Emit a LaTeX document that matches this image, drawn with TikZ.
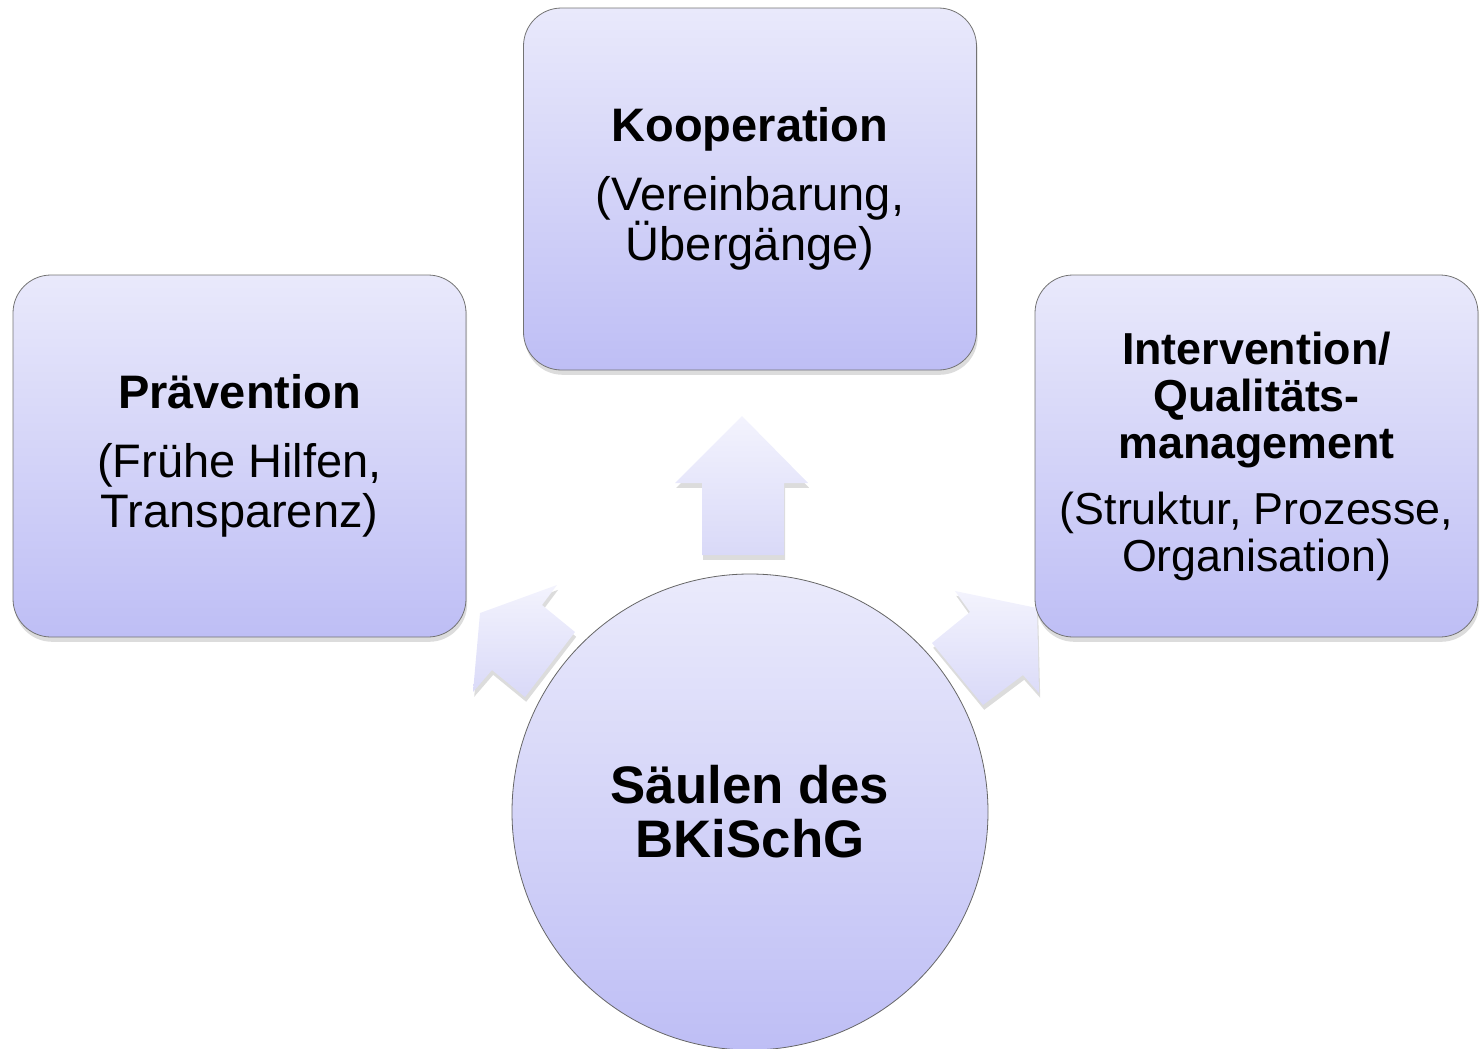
\documentclass[tikz,border=0pt]{standalone}
\usepackage{fontspec}
\setmainfont{Liberation Sans}
\usetikzlibrary{shadows, positioning}

\definecolor{pillartop}{HTML}{E9E9FB}
\definecolor{pillarbottom}{HTML}{BEBEF5}
\definecolor{arrowtop}{HTML}{F3F3FD}
\definecolor{arrowbottom}{HTML}{D9D9F8}

\begin{document}
\begin{tikzpicture}[
        x=0.5pt, y=-0.5pt,
        softshadow/.style={drop shadow={opacity=0.28, shadow xshift=0.6pt, shadow yshift=-2.4pt}},
        pillar/.style={draw=black!55, thin, rounded corners=19pt, top color=pillartop, bottom color=pillarbottom,
            minimum width=226.5pt, minimum height=181pt, align=center, inner sep=2pt,
            font=\fontsize{23.5}{25}\selectfont, softshadow},
        hub/.style={circle, draw=black!60, thin, top color=pillartop!95!white, bottom color=pillarbottom,
            minimum size=238pt, align=center, font=\bfseries\fontsize{26.4}{27}\selectfont},
        blockarrow/.style={top color=arrowtop, bottom color=arrowbottom, draw=none, softshadow}
    ]
    \useasboundingbox (0,0) rectangle (1480,1049);

    % arrows from the hub towards the pillars
    \path[blockarrow] (742,416) -- (808,483) -- (784,483) -- (784,555) -- (702,555) -- (702,483) -- (675,483) -- cycle;
    \path[blockarrow] (557,585) -- (542,605) -- (575,632) -- (525,697) -- (492,670) -- (473,692) -- (480,613) -- cycle;
    \path[blockarrow] (955,591) -- (970,612) -- (932,643) -- (983,705) -- (1023,675) -- (1039,693) -- (1037,608) -- cycle;

    % pillars
    \node[pillar] (koop) at (750,189) {\textbf{Kooperation}\\[9.5pt] (Vereinbarung,\\ Übergänge)};
    \node[pillar] (praev) at (239.5,456) {\textbf{Prävention}\\[9.5pt] (Frühe Hilfen,\\ Transparenz)};
    \node[pillar, minimum width=221.5pt, font=\fontsize{22.4}{23.5}\selectfont] (interv) at (1256.5,456)
    {\textbf{Intervention/}\\ \textbf{Qualitäts-}\\ \textbf{management}\\[9.5pt] (Struktur, Prozesse,\\ Organisation)};

    % centre
    \node[hub] (hub) at (750,812) {Säulen des\\ BKiSchG};
\end{tikzpicture}
\end{document}
